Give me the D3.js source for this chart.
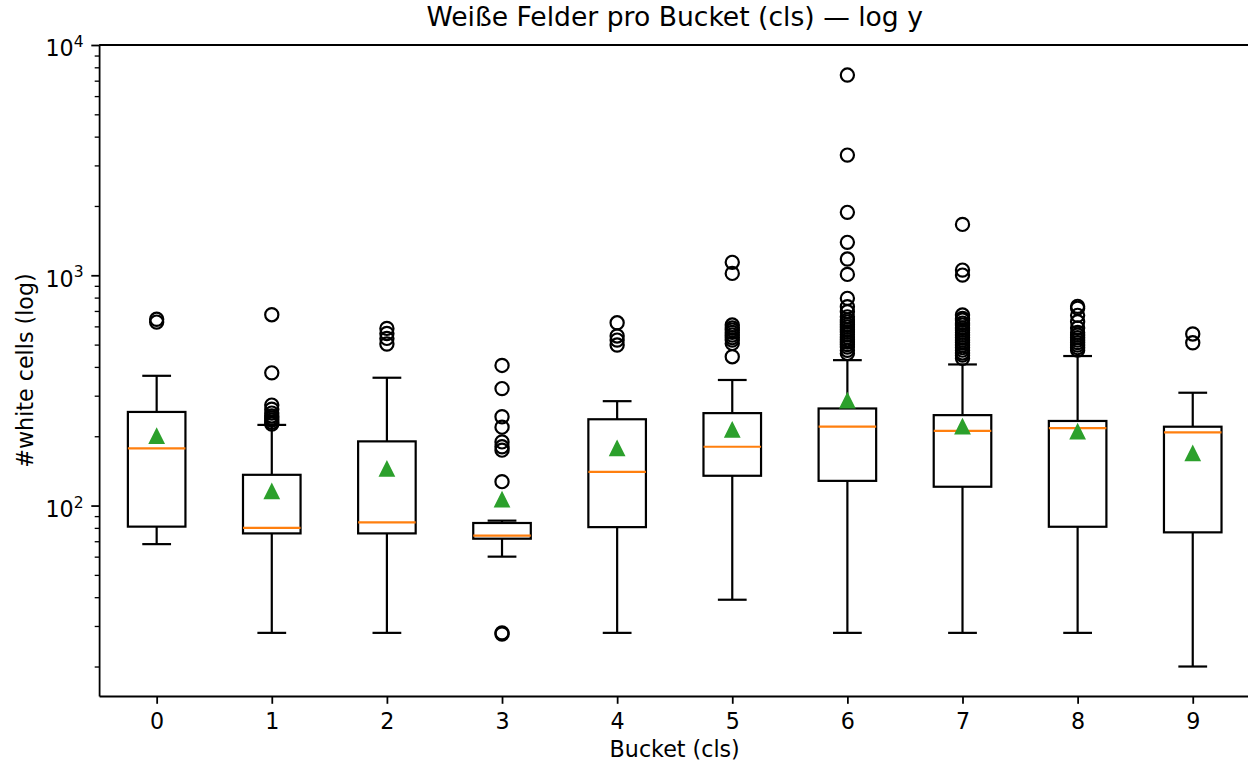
<!DOCTYPE html>
<html>
<head lang="de">
    <meta charset="UTF-8">
    <title>Weiße Felder pro Bucket</title>
    <script type="text/javascript" src="https://d3js.org/d3.v7.min.js"></script>
    <style type="text/css">
        body { margin: 0; background: #fff; }
        svg text { font-family: "DejaVu Sans", sans-serif; fill: #000; }
        .box { fill: none; stroke: #000; stroke-width: 2.2; }
        .whisker, .cap { stroke: #000; stroke-width: 2.2; }
        .median { stroke: #ff7f0e; stroke-width: 2.2; }
        .flier { fill: none; stroke: #000; stroke-width: 2.2; }
        .mean { fill: #2ca02c; stroke: #2ca02c; stroke-width: 2.2; stroke-linejoin: miter; }
        .axis path, .axis line { stroke: #000; stroke-width: 1.78; }
        .minor line { stroke: #000; stroke-width: 1.33; }
    </style>
</head>
<body>
<svg id="chart" width="1248" height="762"></svg>

<script type="text/javascript">
    // Werte
    var buckets = [0, 1, 2, 3, 4, 5, 6, 7, 8, 9];
    var whiskerLow  = [68, 28, 28, 60, 28, 39, 28, 28, 28, 20];
    var q1          = [81, 75.7, 75.7, 71.8, 80.6, 134.7, 128, 120.7, 80.9, 76.5];
    var median      = [177, 80, 84.5, 74, 140, 180, 220, 211, 217, 208];
    var q3          = [255, 136, 190, 84, 237, 252, 264, 247, 233, 220];
    var whiskerHigh = [366, 224, 359, 86, 284, 351, 428, 410, 446, 309];
    var means       = [200, 115, 144, 106, 177, 213, 285, 220, 209, 168];
    var outliers = [
        [626, 644],
        [674, 377, 273, 262, 252, 245, 240, 235, 230, 226],
        [588, 559, 532, 503],
        [406, 322, 243, 219, 189, 180, 174, 127, 28, 27.7],
        [622, 545, 523, 498],
        [1138, 1019, 608, 590, 578, 565, 550, 536, 523, 506, 443],
        [7403, 3326, 1876, 1390, 1176, 1009, 794, 730, 694, 660, 640, 626, 610, 596, 580, 567, 553, 539, 525, 513, 500, 488, 472, 458],
        [1663, 1053, 1002, 672, 650, 639, 620, 608, 590, 578, 565, 550, 536, 523, 510, 498, 485, 473, 460, 450, 436],
        [733, 720, 670, 628, 590, 565, 550, 536, 523, 510, 498, 485, 473],
        [556, 509]
    ];
    var majorTicks = [100, 1000, 10000];
    var majorExp = ["2", "3", "4"];

    function drawChart() {
        var pLeft = 99.1, pRight = 1250.3, pTop = 45, pBottom = 696;
        var fs = 22.2;

        var svg = d3.select("#chart");

        var x = d3.scaleLinear().domain([-0.5, 9.5]).range([pLeft, pRight]);
        var y = d3.scaleLog().domain([Math.pow(10, 1.173), 10000]).range([pBottom, pTop]);

        // minor ticks 2..9 x 10^k
        var minorTicks = [];
        for (var k = 1; k <= 3; k++) {
            for (var m = 2; m <= 9; m++) {
                var v = m * Math.pow(10, k);
                if (v >= y.domain()[0] && v <= y.domain()[1]) minorTicks.push(v);
            }
        }

        // axes
        var xAxis = svg.append("g").attr("class", "axis")
            .attr("transform", "translate(0," + pBottom + ")")
            .call(d3.axisBottom(x).tickValues(buckets).tickSize(7.8).tickSizeOuter(0));
        xAxis.selectAll("text")
            .attr("y", 32.5).attr("dy", null)
            .style("font-size", fs + "px").attr("fill", "#000");

        var yMinor = svg.append("g").attr("class", "axis minor")
            .attr("transform", "translate(" + pLeft + ",0)")
            .call(d3.axisLeft(y).tickValues(minorTicks).tickSize(4.4).tickFormat(""));
        yMinor.select(".domain").remove();

        var yAxis = svg.append("g").attr("class", "axis")
            .attr("transform", "translate(" + pLeft + ",0)")
            .call(d3.axisLeft(y).tickValues(majorTicks).tickSize(7.8).tickSizeOuter(0).tickFormat(""));

        yAxis.selectAll(".tick").each(function(d, i) {
            var t = d3.select(this).select("text")
                .attr("x", -15.6).attr("y", 10.8).attr("dy", null)
                .attr("text-anchor", "end").style("font-size", fs + "px");
            t.text(null);
            t.append("tspan").text("10");
            t.append("tspan").attr("dy", -9.2).style("font-size", "15.5px").text(majorExp[i]);
        });

        // top spine
        svg.append("line")
            .attr("x1", pLeft).attr("x2", pRight).attr("y1", pTop).attr("y2", pTop)
            .attr("stroke", "#000").attr("stroke-width", 1.78);

        var g = svg.append("g");

        // boxes
        g.selectAll("rect.box").data(buckets).enter().append("rect")
            .attr("class", "box")
            .attr("x", function(d) { return x(d - 0.25); })
            .attr("width", function(d) { return x(d + 0.25) - x(d - 0.25); })
            .attr("y", function(d, i) { return y(q3[i]); })
            .attr("height", function(d, i) { return y(q1[i]) - y(q3[i]); });

        // whiskers
        g.selectAll("line.wlo").data(buckets).enter().append("line")
            .attr("class", "whisker")
            .attr("x1", function(d) { return x(d); }).attr("x2", function(d) { return x(d); })
            .attr("y1", function(d, i) { return y(q1[i]); })
            .attr("y2", function(d, i) { return y(whiskerLow[i]); });
        g.selectAll("line.whi").data(buckets).enter().append("line")
            .attr("class", "whisker")
            .attr("x1", function(d) { return x(d); }).attr("x2", function(d) { return x(d); })
            .attr("y1", function(d, i) { return y(q3[i]); })
            .attr("y2", function(d, i) { return y(whiskerHigh[i]); });

        // caps
        [whiskerLow, whiskerHigh].forEach(function(arr) {
            g.append("g").selectAll("line").data(buckets).enter().append("line")
                .attr("class", "cap")
                .attr("x1", function(d) { return x(d - 0.125); })
                .attr("x2", function(d) { return x(d + 0.125); })
                .attr("y1", function(d, i) { return y(arr[i]); })
                .attr("y2", function(d, i) { return y(arr[i]); });
        });

        // medians
        g.selectAll("line.median").data(buckets).enter().append("line")
            .attr("class", "median")
            .attr("x1", function(d) { return x(d - 0.25); })
            .attr("x2", function(d) { return x(d + 0.25); })
            .attr("y1", function(d, i) { return y(median[i]); })
            .attr("y2", function(d, i) { return y(median[i]); });

        // fliers
        var flierData = [];
        outliers.forEach(function(list, i) {
            list.forEach(function(v) { flierData.push({b: buckets[i], v: v}); });
        });
        g.selectAll("circle.flier").data(flierData).enter().append("circle")
            .attr("class", "flier")
            .attr("cx", function(d) { return x(d.b); })
            .attr("cy", function(d) { return y(d.v); })
            .attr("r", 6.6);

        // means
        var h = 6.6;
        var tri = "M0," + (-h) + "L" + (-h) + "," + h + "L" + h + "," + h + "Z";
        g.selectAll("path.mean").data(buckets).enter().append("path")
            .attr("class", "mean")
            .attr("d", tri)
            .attr("transform", function(d, i) { return "translate(" + x(d) + "," + y(means[i]) + ")"; });

        // titles
        svg.append("text")
            .attr("x", (pLeft + pRight) / 2).attr("y", 26)
            .attr("text-anchor", "middle").style("font-size", "26.6px")
            .text("Weiße Felder pro Bucket (cls) — log y");

        svg.append("text")
            .attr("x", (pLeft + pRight) / 2).attr("y", 757)
            .attr("text-anchor", "middle").style("font-size", fs + "px")
            .text("Bucket (cls)");

        svg.append("text")
            .attr("transform", "translate(32.6," + ((pTop + pBottom) / 2) + ") rotate(-90)")
            .attr("text-anchor", "middle").style("font-size", fs + "px")
            .text("#white cells (log)");
    }

    drawChart();
</script>

</body>
</html>
